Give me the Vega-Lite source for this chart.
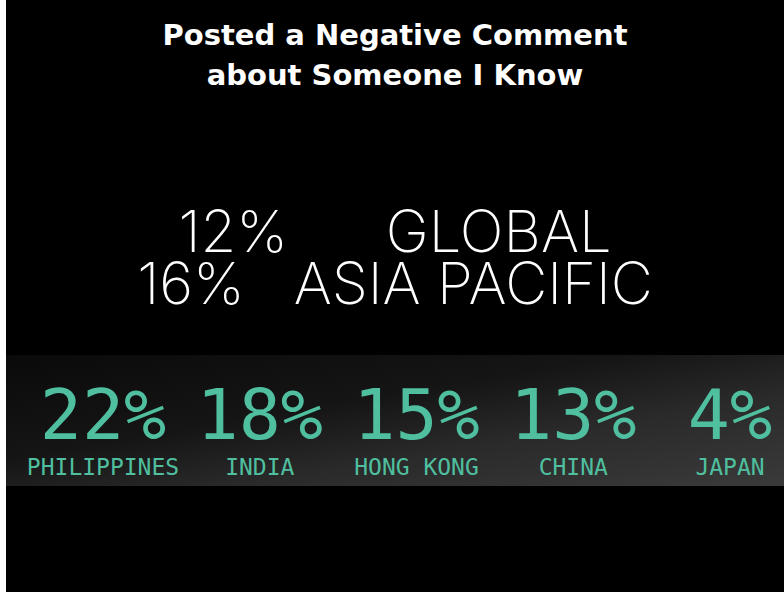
{
  "$schema": "https://vega.github.io/schema/vega-lite/v6.json",
  "width": 784,
  "height": 592,
  "autosize": {"type": "fit", "contains": "padding"},
  "padding": {"left": 6, "top": 0, "right": 0, "bottom": 0},
  "background": "#ffffff",
  "config": {"view": {"stroke": null, "fill": "#000000"}},
  "layer": [
    {
      "data": {"values": [{"line": "Posted a Negative Comment"}, {"line": "about Someone I Know"}]},
      "mark": {"type": "text", "font": "DejaVu Sans", "fontWeight": "bold", "fontSize": 29, "color": "#ffffff", "align": "center", "baseline": "alphabetic"},
      "encoding": {
        "y": {"field": "line", "type": "nominal", "sort": null, "axis": null,
              "scale": {"type": "point", "domain": ["Posted a Negative Comment", "about Someone I Know"], "range": [45, 85], "padding": 0}},
        "text": {"field": "line"}
      }
    },
    {
      "data": {"values": [
        {"region": "GLOBAL", "value": 12, "label": "12%\u00a0\u00a0\u00a0\u00a0\u00a0\u00a0GLOBAL"},
        {"region": "ASIA PACIFIC", "value": 16, "label": "16%\u00a0\u00a0\u00a0ASIA PACIFIC"}
      ]},
      "mark": {"type": "text", "font": "Inter", "fontWeight": 200, "fontSize": 58, "color": "#ffffff", "align": "center", "baseline": "alphabetic"},
      "encoding": {
        "y": {"field": "region", "type": "nominal", "sort": null, "axis": null,
              "scale": {"type": "point", "domain": ["GLOBAL", "ASIA PACIFIC"], "range": [252, 304], "padding": 0}},
        "text": {"field": "label"}
      }
    },
    {
      "layer": [
        {
          "data": {"values": [{"strip": "band"}]},
          "mark": {"type": "rect", "fill": {"gradient": "linear", "x1": 0, "y1": 0, "x2": 1, "y2": 1,
            "stops": [{"offset": 0, "color": "#0a0a0a"}, {"offset": 0.4, "color": "#151515"}, {"offset": 0.65, "color": "#2a2a2a"}, {"offset": 1, "color": "#3a3a3a"}]}},
          "encoding": {
            "y": {"field": "strip", "type": "nominal", "axis": null,
                  "scale": {"type": "band", "domain": ["band"], "range": [355, 486], "paddingInner": 0, "paddingOuter": 0}}
          }
        },
        {
          "data": {"values": [
            {"country": "PHILIPPINES", "share": 0.22},
            {"country": "INDIA", "share": 0.18},
            {"country": "HONG KONG", "share": 0.15},
            {"country": "CHINA", "share": 0.13},
            {"country": "JAPAN", "share": 0.04}
          ]},
          "layer": [
            {
              "mark": {"type": "text", "font": "DejaVu Sans Mono", "fontSize": 70, "color": "#4fbf9f", "align": "center", "baseline": "alphabetic"},
              "encoding": {
                "x": {"field": "country", "type": "nominal", "sort": null, "axis": null,
                      "scale": {"type": "point", "domain": ["PHILIPPINES", "INDIA", "HONG KONG", "CHINA", "JAPAN"], "range": [97, 724], "padding": 0}},
                "y": {"datum": "band", "type": "nominal", "bandPosition": 0.641},
                "text": {"field": "share", "format": ".0%"}
              }
            },
            {
              "mark": {"type": "text", "font": "DejaVu Sans Mono", "fontSize": 23, "color": "#4fbf9f", "align": "center", "baseline": "alphabetic"},
              "encoding": {
                "x": {"field": "country", "type": "nominal", "sort": null, "axis": null},
                "y": {"datum": "band", "type": "nominal", "bandPosition": 0.916},
                "text": {"field": "country"}
              }
            }
          ]
        }
      ]
    }
  ],
  "resolve": {"scale": {"y": "independent"}}
}
